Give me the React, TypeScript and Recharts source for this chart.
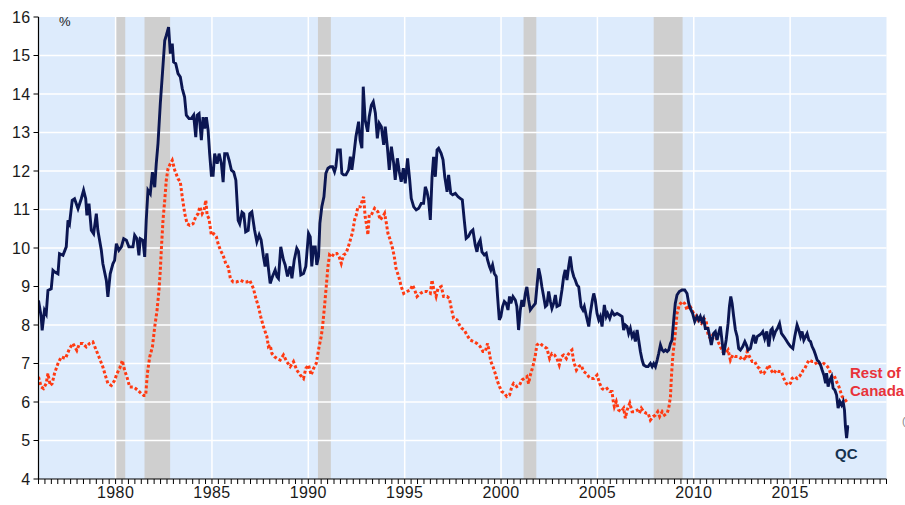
import React from 'react';
import { LineChart, Line, XAxis, YAxis, ReferenceArea, ReferenceLine } from 'recharts';

// Quebec unemployment rate (%), [decimal year, value]
const qcPoints: [number, number][] = [
  [1976.0,8.64],[1976.14,8.21],[1976.19,7.86],[1976.31,8.38],[1976.40,8.29],[1976.49,8.90],[1976.66,8.94],[1976.75,9.42],[1976.83,9.38],[1977.01,9.33],[1977.09,9.85],[1977.27,9.81],[1977.44,10.03],[1977.53,10.72],[1977.61,10.63],[1977.75,11.24],[1977.87,11.28],[1978.05,11.02],[1978.22,11.28],[1978.34,11.50],[1978.45,11.28],[1978.51,10.85],[1978.62,11.15],[1978.74,10.46],[1978.86,10.37],[1979.00,10.89],[1979.08,10.46],[1979.26,9.94],[1979.34,9.59],[1979.52,9.16],[1979.60,8.73],[1979.72,9.33],[1979.86,9.59],[1979.95,9.68],[1980.04,10.11],[1980.17,9.94],[1980.30,10.03],[1980.42,10.24],[1980.56,10.20],[1980.69,10.03],[1980.90,10.03],[1980.99,10.33],[1981.11,10.24],[1981.21,9.81],[1981.28,10.24],[1981.42,10.20],[1981.51,9.77],[1981.59,10.72],[1981.68,11.50],[1981.80,11.41],[1981.91,11.97],[1982.03,11.58],[1982.11,12.19],[1982.20,12.71],[1982.32,13.75],[1982.43,14.53],[1982.55,15.39],[1982.63,15.52],[1982.75,15.74],[1982.84,15.05],[1982.94,15.31],[1983.01,14.83],[1983.12,14.79],[1983.24,14.53],[1983.36,14.44],[1983.46,14.14],[1983.58,13.92],[1983.67,13.45],[1983.81,13.36],[1983.93,13.36],[1984.05,13.45],[1984.16,12.88],[1984.23,13.45],[1984.33,13.49],[1984.45,12.80],[1984.54,13.40],[1984.62,13.10],[1984.71,13.40],[1984.80,13.06],[1984.88,12.45],[1984.97,11.89],[1985.06,11.89],[1985.14,12.45],[1985.27,12.19],[1985.37,12.45],[1985.49,12.19],[1985.58,11.71],[1985.66,12.45],[1985.79,12.45],[1985.89,12.28],[1986.01,12.02],[1986.13,11.97],[1986.24,11.76],[1986.36,10.72],[1986.44,10.63],[1986.56,10.93],[1986.65,10.89],[1986.75,10.42],[1986.88,10.46],[1986.96,10.89],
  [1987.07,10.94],[1987.21,10.47],[1987.33,10.16],[1987.45,10.34],[1987.55,10.21],[1987.67,9.78],[1987.76,9.52],[1987.85,9.86],[1987.93,9.47],[1988.02,9.08],[1988.14,9.26],[1988.28,9.43],[1988.37,9.26],[1988.45,9.21],[1988.57,10.03],[1988.71,9.69],[1988.80,9.56],[1988.92,9.26],[1989.06,9.52],[1989.15,9.21],[1989.27,9.69],[1989.40,9.99],[1989.49,9.91],[1989.61,9.30],[1989.75,9.34],[1989.87,9.52],[1990.01,10.38],[1990.10,10.29],[1990.18,9.52],[1990.27,10.03],[1990.36,10.03],[1990.44,9.56],[1990.53,9.78],[1990.60,10.64],[1990.70,11.07],[1990.81,11.33],[1990.91,11.94],[1991.02,12.07],[1991.14,12.11],[1991.26,12.11],[1991.36,11.98],[1991.43,12.11],[1991.52,12.55],[1991.66,12.55],[1991.74,11.94],[1991.83,11.90],[1991.95,11.90],[1992.09,12.03],[1992.18,12.37],[1992.26,12.03],[1992.35,12.37],[1992.47,12.89],[1992.61,13.28],[1992.69,12.80],[1992.78,12.59],[1992.85,14.19],[1992.95,13.32],[1993.08,13.02],[1993.16,13.41],[1993.27,13.71],[1993.37,13.80],[1993.48,13.50],[1993.58,12.85],[1993.68,13.24],[1993.79,13.15],[1993.91,12.68],[1993.99,13.15],[1994.10,12.63],[1994.20,12.03],[1994.31,12.63],[1994.43,12.20],[1994.51,11.77],[1994.62,12.33],[1994.72,11.98],[1994.82,11.72],[1994.93,12.07],[1995.03,11.68],[1995.15,12.33],[1995.26,11.77],[1995.34,11.29],[1995.47,11.07],[1995.60,10.99],[1995.73,11.03],[1995.86,11.16],[1995.98,11.16],[1996.07,11.59],[1996.16,11.46],[1996.24,11.25],[1996.33,10.73],[1996.42,11.85],[1996.50,12.37],[1996.59,11.85],[1996.68,12.55],[1996.76,12.59],[1996.89,12.46],[1996.99,12.29],[1997.08,11.85],[1997.20,11.46],[1997.28,11.90],[1997.39,11.42],[1997.49,11.38],[1997.63,11.42],[1997.77,11.33],
  [1997.88,11.29],[1997.99,11.25],[1998.09,10.73],[1998.19,10.25],[1998.31,10.30],[1998.43,10.42],[1998.54,10.47],[1998.66,10.08],[1998.75,9.90],[1998.83,10.12],[1998.92,10.21],[1999.01,9.90],[1999.13,9.82],[1999.23,9.86],[1999.30,9.69],[1999.40,9.52],[1999.47,9.43],[1999.56,9.56],[1999.65,9.34],[1999.75,9.26],[1999.82,8.74],[1999.91,8.13],[1999.99,8.22],[2000.08,8.48],[2000.17,8.61],[2000.27,8.56],[2000.36,8.39],[2000.44,8.74],[2000.51,8.56],[2000.62,8.74],[2000.74,8.65],[2000.82,8.48],[2000.91,7.87],[2001.00,8.39],[2001.08,8.65],[2001.17,8.48],[2001.26,8.82],[2001.34,8.99],[2001.43,8.65],[2001.52,8.39],[2001.65,8.48],[2001.78,8.56],[2001.86,8.99],[2001.95,9.47],[2002.04,9.26],[2002.12,8.99],[2002.21,8.74],[2002.30,8.48],[2002.38,8.52],[2002.47,8.87],[2002.56,8.61],[2002.64,8.43],[2002.73,8.56],[2002.82,8.78],[2002.90,8.48],[2003.04,8.52],[2003.16,8.91],[2003.25,9.26],[2003.33,9.43],[2003.42,9.17],[2003.51,9.52],[2003.59,9.78],[2003.68,9.43],[2003.77,9.26],[2003.85,9.17],[2003.94,9.04],[2004.03,8.99],[2004.15,8.48],[2004.25,8.39],[2004.32,8.48],[2004.43,8.22],[2004.55,7.96],[2004.63,8.30],[2004.74,8.65],[2004.81,8.82],[2004.89,8.65],[2004.98,8.30],[2005.07,8.13],[2005.15,8.22],[2005.24,7.96],[2005.36,8.52],[2005.46,8.22],[2005.53,8.30],[2005.64,8.17],[2005.76,8.35],[2005.88,8.26],[2006.02,8.30],[2006.16,8.26],[2006.28,8.22],[2006.36,7.87],[2006.45,8.00],[2006.54,7.96],[2006.62,7.78],[2006.71,7.91],[2006.80,7.70],[2006.88,7.78],[2006.97,7.57],[2007.06,7.87],[2007.14,7.61],[2007.23,7.31],[2007.32,7.09],[2007.40,6.96],[2007.53,6.92],[2007.63,6.92],[2007.75,7.00],[2007.84,6.92],[2007.92,7.00],[2008.01,6.92],[2008.10,7.09],[2008.18,7.26],[2008.27,7.48],[2008.36,7.35],[2008.44,7.31],[2008.53,7.35],[2008.62,7.31],[2008.70,7.35],[2008.79,7.52],
  [2008.87,7.61],[2008.96,8.13],[2009.04,8.56],[2009.13,8.78],[2009.25,8.87],[2009.39,8.91],[2009.53,8.91],[2009.65,8.82],[2009.74,8.56],[2009.82,8.43],[2009.94,8.30],[2010.05,8.09],[2010.17,8.22],[2010.26,8.13],[2010.34,8.22],[2010.43,8.09],[2010.51,8.17],[2010.60,7.91],[2010.74,7.91],[2010.81,7.74],[2010.91,7.48],[2011.03,7.78],[2011.12,7.83],[2011.21,7.61],[2011.29,7.78],[2011.38,7.96],[2011.47,7.57],[2011.55,7.22],[2011.68,7.61],[2011.78,8.04],[2011.85,8.48],[2011.92,8.74],[2011.99,8.56],[2012.07,8.22],[2012.16,7.87],[2012.25,7.70],[2012.33,7.39],[2012.42,7.35],[2012.54,7.44],[2012.65,7.57],[2012.73,7.48],[2012.82,7.35],[2012.94,7.39],[2013.03,7.61],[2013.11,7.74],[2013.20,7.52],[2013.29,7.70],[2013.41,7.74],[2013.51,7.78],[2013.58,7.83],[2013.68,7.65],[2013.79,7.83],[2013.89,7.44],[2014.00,7.87],[2014.07,7.91],[2014.15,7.70],[2014.24,7.83],[2014.34,7.91],[2014.45,8.04],[2014.55,7.78],[2014.67,7.70],[2014.79,7.61],[2014.90,7.52],[2015.02,7.44],[2015.14,7.39],[2015.24,7.70],[2015.36,8.00],[2015.45,7.87],[2015.54,7.70],[2015.62,7.83],[2015.71,7.61],[2015.80,7.70],[2015.88,7.78],[2015.97,7.61],[2016.06,7.57],[2016.14,7.44],[2016.23,7.35],[2016.32,7.22],[2016.40,7.09],[2016.49,7.05],[2016.58,6.96],[2016.66,6.83],[2016.75,6.70],[2016.84,6.49],[2016.89,6.75],[2016.97,6.40],[2017.06,6.57],[2017.15,6.66],[2017.23,6.36],[2017.32,6.31],[2017.41,6.18],[2017.49,5.84],[2017.58,6.01],[2017.67,5.92],[2017.75,6.01],[2017.82,5.79],[2017.87,5.36],[2017.93,5.06],[2017.99,5.36],[2018.05,5.36],
];

// Rest of Canada unemployment rate (%), [decimal year, value]
const rocPoints: [number, number][] = [
  [1976.0,6.65],[1976.14,6.39],[1976.26,6.35],[1976.40,6.48],[1976.49,6.74],[1976.61,6.43],[1976.71,6.48],[1976.83,6.74],[1977.01,7.00],[1977.18,7.17],[1977.40,7.13],[1977.61,7.39],[1977.79,7.52],[1977.99,7.34],[1978.13,7.52],[1978.30,7.52],[1978.48,7.43],[1978.65,7.52],[1978.82,7.56],[1979.00,7.34],[1979.17,7.13],[1979.34,6.91],[1979.47,6.69],[1979.60,6.48],[1979.78,6.43],[1979.95,6.56],[1980.07,6.74],[1980.21,6.87],[1980.35,7.08],[1980.47,6.82],[1980.59,6.65],[1980.73,6.39],[1980.90,6.39],[1981.04,6.35],[1981.16,6.30],[1981.33,6.22],[1981.46,6.17],[1981.56,6.17],[1981.65,6.74],[1981.77,7.17],[1981.91,7.43],[1982.03,7.95],[1982.15,8.38],[1982.25,8.90],[1982.32,9.42],[1982.39,10.11],[1982.46,10.72],[1982.55,11.24],[1982.63,11.76],[1982.72,12.06],[1982.84,12.19],[1982.94,12.28],[1983.07,12.02],[1983.24,11.80],[1983.36,11.71],[1983.46,11.32],[1983.59,10.89],[1983.71,10.63],[1983.85,10.59],[1984.02,10.63],[1984.16,10.81],[1984.28,10.89],[1984.37,11.07],[1984.49,10.89],[1984.59,10.98],[1984.68,11.24],[1984.75,10.85],[1984.85,10.76],[1984.97,10.33],[1985.09,10.37],[1985.23,10.29],[1985.32,10.11],[1985.44,9.94],[1985.58,9.81],[1985.72,9.59],[1985.84,9.51],[1985.96,9.20],[1986.10,9.12],[1986.27,9.12],[1986.48,9.16],[1986.65,9.12],[1986.82,9.12],[1986.96,9.16],
  [1987.15,8.95],[1987.28,8.69],[1987.41,8.48],[1987.53,8.22],[1987.67,7.96],[1987.85,7.70],[1987.93,7.44],[1988.02,7.48],[1988.11,7.26],[1988.24,7.18],[1988.37,7.13],[1988.54,7.09],[1988.71,7.22],[1988.88,7.05],[1989.06,6.92],[1989.23,7.05],[1989.40,6.83],[1989.58,6.70],[1989.75,6.61],[1989.87,6.87],[1990.01,6.96],[1990.15,6.70],[1990.27,6.87],[1990.41,7.00],[1990.50,7.26],[1990.56,7.44],[1990.67,7.70],[1990.74,7.96],[1990.84,8.48],[1990.93,9.00],[1991.02,9.52],[1991.10,9.82],[1991.22,9.77],[1991.34,9.86],[1991.48,9.86],[1991.60,9.77],[1991.71,9.60],[1991.83,9.82],[1991.95,9.86],[1992.05,9.99],[1992.18,10.21],[1992.30,10.42],[1992.40,10.73],[1992.49,10.86],[1992.57,11.07],[1992.69,11.07],[1992.78,11.20],[1992.87,11.33],[1992.95,10.81],[1993.04,10.55],[1993.09,10.34],[1993.16,10.86],[1993.27,10.86],[1993.44,11.03],[1993.61,10.94],[1993.73,10.73],[1993.86,10.81],[1993.96,10.90],[1994.05,10.64],[1994.13,10.38],[1994.25,10.21],[1994.37,9.99],[1994.46,9.78],[1994.55,9.47],[1994.69,9.26],[1994.82,9.00],[1994.95,8.82],[1995.12,8.87],[1995.29,8.91],[1995.41,9.04],[1995.52,8.91],[1995.64,8.74],[1995.81,8.82],[1995.99,8.87],[1996.16,8.87],[1996.33,8.82],[1996.42,9.17],[1996.50,8.95],[1996.63,8.74],[1996.73,8.95],[1996.90,9.00],[1997.02,8.74],[1997.20,8.74],[1997.32,8.69],[1997.42,8.43],[1997.54,8.17],[1997.72,8.13],[1997.84,8.00],
  [1997.97,7.91],[1998.09,7.87],[1998.23,7.74],[1998.40,7.61],[1998.57,7.57],[1998.75,7.52],[1998.92,7.44],[1999.06,7.31],[1999.18,7.31],[1999.30,7.52],[1999.40,7.26],[1999.47,7.05],[1999.58,6.92],[1999.70,6.74],[1999.82,6.53],[1999.92,6.40],[2000.04,6.27],[2000.17,6.23],[2000.30,6.14],[2000.44,6.18],[2000.56,6.40],[2000.65,6.48],[2000.82,6.40],[2000.96,6.44],[2001.08,6.57],[2001.20,6.61],[2001.34,6.66],[2001.43,6.48],[2001.52,6.70],[2001.60,6.83],[2001.69,7.00],[2001.78,7.22],[2001.86,7.48],[2001.95,7.52],[2002.04,7.52],[2002.12,7.48],[2002.24,7.44],[2002.38,7.39],[2002.52,7.13],[2002.64,7.26],[2002.78,7.22],[2002.90,7.13],[2003.02,6.96],[2003.13,7.18],[2003.25,7.22],[2003.39,7.13],[2003.47,7.22],[2003.59,7.31],[2003.68,7.35],[2003.77,7.05],[2003.91,6.83],[2004.03,6.92],[2004.15,6.96],[2004.29,6.79],[2004.43,6.74],[2004.55,6.66],[2004.67,6.61],[2004.81,6.61],[2004.98,6.70],[2005.12,6.48],[2005.24,6.35],[2005.36,6.31],[2005.50,6.35],[2005.64,6.27],[2005.76,6.27],[2005.81,6.05],[2005.88,5.88],[2005.98,6.01],[2006.10,5.79],[2006.23,5.75],[2006.36,5.84],[2006.45,5.58],[2006.54,5.79],[2006.68,5.97],[2006.80,5.75],[2006.92,5.75],[2007.06,5.79],[2007.18,5.71],[2007.28,5.84],[2007.40,5.75],[2007.53,5.71],[2007.63,5.71],[2007.75,5.53],[2007.89,5.62],[2008.01,5.66],[2008.13,5.75],[2008.23,5.62],[2008.36,5.75],[2008.48,5.66],[2008.62,5.71],[2008.70,5.84],[2008.79,6.14],[2008.84,6.66],[2008.91,7.18],
  [2009.04,7.78],[2009.13,8.30],[2009.25,8.52],[2009.39,8.61],[2009.53,8.56],[2009.65,8.39],[2009.77,8.52],[2009.87,8.43],[2009.99,8.30],[2010.12,8.26],[2010.26,8.09],[2010.39,8.04],[2010.51,8.17],[2010.64,8.13],[2010.74,7.74],[2010.86,7.65],[2010.98,7.74],[2011.12,7.70],[2011.26,7.57],[2011.38,7.44],[2011.50,7.31],[2011.64,7.26],[2011.78,7.35],[2011.90,7.09],[2012.02,7.22],[2012.16,7.18],[2012.30,7.18],[2012.42,7.14],[2012.54,7.18],[2012.68,7.09],[2012.77,7.31],[2012.89,7.18],[2013.03,7.05],[2013.16,7.05],[2013.29,6.92],[2013.41,6.87],[2013.51,6.74],[2013.63,6.74],[2013.75,6.83],[2013.89,6.96],[2014.00,6.83],[2014.15,6.74],[2014.27,6.83],[2014.41,6.79],[2014.55,6.79],[2014.67,6.61],[2014.79,6.49],[2014.90,6.44],[2015.02,6.49],[2015.10,6.61],[2015.24,6.66],[2015.36,6.61],[2015.48,6.66],[2015.59,6.74],[2015.68,6.83],[2015.76,6.87],[2015.88,7.00],[2015.98,7.09],[2016.14,7.05],[2016.28,7.05],[2016.40,6.96],[2016.52,7.00],[2016.63,6.96],[2016.75,7.00],[2016.87,6.96],[2017.01,6.87],[2017.10,6.74],[2017.18,6.66],[2017.27,6.70],[2017.35,6.61],[2017.44,6.49],[2017.53,6.40],[2017.61,6.27],[2017.70,6.14],[2017.79,6.10],[2017.87,6.05],[2017.99,5.97],
];

// Recession periods (shaded)
const recessions: [number, number][] = [
  [1980.0, 1980.5],
  [1981.5, 1982.83],
  [1990.5, 1991.17],
  [2001.17, 2001.83],
  [2007.92, 2009.42],
];

const yTicks = [4, 5, 6, 7, 8, 9, 10, 11, 12, 13, 14, 15, 16];
const yearLabels = [1980, 1985, 1990, 1995, 2000, 2005, 2010, 2015];
const xStart = 1976;
const xEnd = 2020;
const ticksPerYear = 3;
const xTicks = Array.from({ length: (xEnd - xStart) * ticksPerYear + 1 }, (_, i) => xStart + i / ticksPerYear);

const qcData = qcPoints.map(([t, v]) => ({ t, v }));
const rocData = rocPoints.map(([t, v]) => ({ t, v }));

const FONT = '"Liberation Sans", Arial, sans-serif';

const fmtYear = (v: number) => {
  const r = Math.round(v);
  return Math.abs(v - r) < 1e-6 && yearLabels.includes(r) ? String(r) : '';
};

export default function App() {
  const W = 905;
  const H = 505;
  return (
    <div style={{ position: 'fixed', left: 0, top: 0, width: W, height: H, overflow: 'visible', background: '#fff' }}>
      <style>{'html,body{margin:0;padding:0;overflow:hidden;}'}</style>
      <LineChart width={W} height={H} margin={{ top: 17, right: 18.5, bottom: 0, left: 8.5 }}>
        <XAxis
          dataKey="t"
          type="number"
          domain={[xStart, xEnd]}
          ticks={xTicks}
          interval={0}
          tickFormatter={fmtYear}
          height={26}
          tickSize={5}
          tickMargin={3}
          allowDataOverflow
          axisLine={{ stroke: '#000', strokeWidth: 1.2 }}
          tickLine={{ stroke: '#000', strokeWidth: 1 }}
          tick={{ fill: '#1a1a1a', fontSize: 16, fontFamily: FONT, letterSpacing: 0.4 }}
        />
        <YAxis
          type="number"
          domain={[4, 16]}
          ticks={yTicks}
          interval={0}
          width={30}
          tickSize={5}
          tickMargin={3}
          allowDataOverflow
          axisLine={{ stroke: '#000', strokeWidth: 1.2 }}
          tickLine={{ stroke: '#000', strokeWidth: 1 }}
          tick={{ fill: '#1a1a1a', fontSize: 16, fontFamily: FONT, letterSpacing: 0.4 }}
        />
        <ReferenceArea x1={xStart} x2={xEnd} y1={4} y2={16} fill="#DDEBFC" fillOpacity={1} stroke="none" />
        {recessions.map(([a, b], i) => (
          <ReferenceArea key={'r' + i} x1={a} x2={b} y1={4} y2={16} fill="#CFCFCF" fillOpacity={1} stroke="none" />
        ))}
        {yTicks.slice(1, -1).map((y) => (
          <ReferenceLine key={'h' + y} y={y} stroke="#FFFFFF" strokeWidth={1.5} />
        ))}
        {yearLabels.map((x) => (
          <ReferenceLine key={'v' + x} x={x} stroke="#FFFFFF" strokeWidth={1.5} />
        ))}
        <Line
          data={rocData}
          dataKey="v"
          type="linear"
          stroke="#FF3A12"
          strokeWidth={3}
          strokeDasharray="3 2.2"
          dot={false}
          isAnimationActive={false}
        />
        <Line
          data={qcData}
          dataKey="v"
          type="linear"
          stroke="#0B1652"
          strokeWidth={2.9}
          dot={false}
          isAnimationActive={false}
        />
      </LineChart>
      <svg
        width={W}
        height={H}
        style={{ position: 'absolute', left: 0, top: 0, pointerEvents: 'none' }}
      >
        <text x={59} y={26} fontSize={13} fontFamily={FONT} fill="#1a1a1a">%</text>
        <text x={850} y={378} fontSize={15} fontWeight="bold" fontFamily={FONT} fill="#E8333A">Rest of</text>
        <text x={850} y={396} fontSize={15} fontWeight="bold" fontFamily={FONT} fill="#E8333A">Canada</text>
        <text x={835} y={459} fontSize={15} fontWeight="bold" fontFamily={FONT} fill="#15324F">QC</text>
        <text x={902} y={425} fontSize={11} fontFamily={FONT} fill="#888">(</text>
      </svg>
    </div>
  );
}
